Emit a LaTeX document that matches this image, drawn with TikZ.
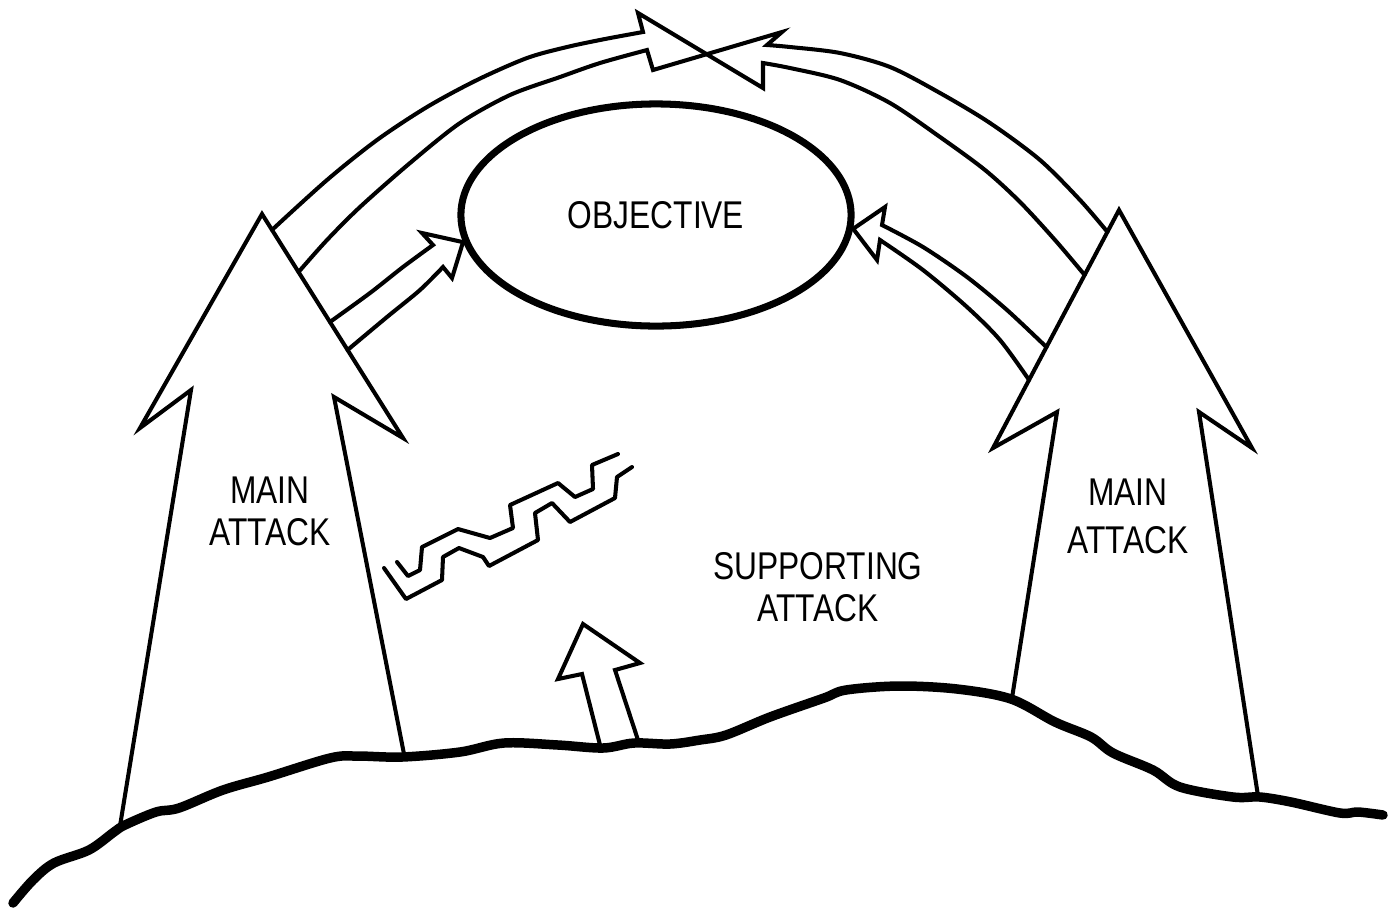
\documentclass[tikz,border=0pt]{standalone}
\usepackage{fontspec}
\usepackage{tikz}
\usetikzlibrary{calc,shapes.geometric}
\newfontfamily\leroy[FakeStretch=0.82]{Liberation Sans}

\begin{document}
\begin{tikzpicture}[x=0.01cm,y=-0.01cm,
  outline/.style={line width=1.15pt,line join=miter,line cap=round},
  ground/.style={line width=2.7pt,line cap=round,line join=round},
  lettering/.style={align=center,font=\leroy\fontsize{11}{12}\selectfont}]

\useasboundingbox (0,0) rectangle (1388,908);

% objective
\node (objective) at (656,215) [draw,ellipse,line width=2pt,minimum width=3.9cm,minimum height=2.22cm,inner sep=0pt,lettering] {OBJECTIVE};

% main attacks
\coordinate (ltip) at (262,214);
\coordinate (lbarb) at (403,438);
\coordinate (rtip) at (1119,210);
\coordinate (rbarb) at (993,448);
\draw[outline] (120,826) -- (191,390) -- (140,428) -- (ltip) -- (lbarb) -- (334,397) -- (404,754);
\draw[outline] (1012,698) -- (1057,412) -- (rbarb) -- (rtip) -- (1252,448) -- (1199,412) -- (1258,796);

% where the hollow arrows leave the main arrows
\coordinate (lo) at ($(ltip)!0.071!(lbarb)$);
\coordinate (li) at ($(ltip)!0.259!(lbarb)$);
\coordinate (lau) at ($(ltip)!0.482!(lbarb)$);
\coordinate (lal) at ($(ltip)!0.607!(lbarb)$);
\coordinate (ro) at ($(rtip)!0.092!(rbarb)$);
\coordinate (ri) at ($(rtip)!0.273!(rbarb)$);
\coordinate (rau) at ($(rtip)!0.576!(rbarb)$);
\coordinate (ral) at ($(rtip)!0.714!(rbarb)$);

% envelopment over the top
\draw[outline] plot[smooth] coordinates {(lo) (327,180) (377,140) (427,107) (477,80) (527,58) (567,47) (605,39) (643,32)}
  -- (638,13) -- (763,88)
  -- plot[smooth] coordinates {(763,63) (790,68) (840,80) (890,103) (940,137) (985,170) (1020,202) (1055,240) (ri)};
\draw[outline] plot[smooth] coordinates {(li) (327,240) (360,207) (410,163) (460,123) (510,95) (560,77) (600,63) (647,50)}
  -- (653,70) -- (782,32)
  -- plot[smooth] coordinates {(767,45) (790,47) (840,53) (890,67) (940,93) (990,123) (1040,160) (1080,200) (ro)};

% arrows into the objective
\draw[outline] plot[smooth] coordinates {(lau) (370,293) (403,267) (433,245)}
  -- (422,233) -- (objective.188) -- (452,278)
  -- plot[smooth] coordinates {(443,267) (420,290) (387,317) (lal)};
\draw[outline] plot[smooth] coordinates {(rau) (1007,310) (967,277) (923,247) (882,225)}
  -- (885,207) -- (objective.356) -- (877,260)
  -- plot[smooth] coordinates {(880,240) (923,270) (967,307) (1000,340) (ral)};

% obstacle
\draw[outline,line join=round] (397,562) -- (408,576) -- (420,570) -- (422,547) -- (458,529) -- (490,538) -- (513,528) -- (510,505) -- (558,483) -- (575,497) -- (593,489) -- (592,465) -- (618,454);
\draw[outline,line join=round] (384,568) -- (406,599) -- (442,580) -- (443,557) -- (459,548) -- (483,557) -- (489,566) -- (538,540) -- (535,513) -- (552,503) -- (570,522) -- (615,498) -- (617,477) -- (632,467);

% supporting attack
\draw[outline] (600,745) -- (582,674) -- (558,679) -- (583,624) -- (640,663) -- (615,670) -- (638,740);

% ground
\draw[ground] plot[smooth,tension=0.55] coordinates {(13,903) (33,880) (54,863) (89,850) (114,832) (125,825) (156,812) (179,808) (223,790) (268,777) (330,758) (357,756) (402,757) (460,752) (504,743) (558,745) (603,748) (634,743) (670,744) (700,740) (726,735) (770,717) (824,698) (846,690) (899,686) (957,689) (1011,699) (1055,722) (1091,737) (1113,753) (1153,770) (1180,787) (1233,797) (1260,797) (1291,802) (1340,813) (1358,812) (1383,815)};

% texts
\node (mainleft) at (270,511) [lettering] {MAIN\\ATTACK};
\node (mainright) at (1128,516) [lettering] {MAIN\\[1.7pt]ATTACK};
\node (support) at (818,587) [lettering] {SUPPORTING\\ATTACK};

\end{tikzpicture}
\end{document}
